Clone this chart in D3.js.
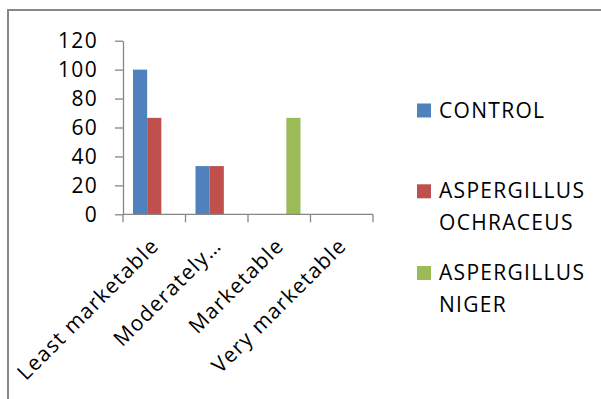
<!DOCTYPE html>
<html>
<head>
<meta charset="utf-8">
<script src="https://cdn.jsdelivr.net/npm/d3@7"></script>
<style>
  html, body { margin: 0; padding: 0; background: #fff; }
  svg { display: block; }
  text { font-family: "Open Sans", sans-serif; fill: #000; }
</style>
</head>
<body>
<svg id="chart" width="601" height="399"></svg>
<script>
// Marketability ratings (%) per treatment
const categories = ["Least marketable", "Moderately…", "Marketable", "Very marketable"];
const seriesNames = ["CONTROL", "ASPERGILLUS OCHRACEUS", "ASPERGILLUS NIGER"];
const control    = [100, 33.33, 0, 0];
const ochraceus  = [66.67, 33.33, 0, 0];
const niger      = [0, 0, 66.67, 0];
const yTicks     = [0, 20, 40, 60, 80, 100, 120];
const colors     = ["#4F81BD", "#C0504D", "#9BBB59"];

const seriesValues = [control, ochraceus, niger];
const legendLines = [["CONTROL"], ["ASPERGILLUS", "OCHRACEUS"], ["ASPERGILLUS", "NIGER"]];

const svg = d3.select("#chart");
const axisColor = "#868686";
const fontSize = "21px";
const spacing = "1.3px";

// Frame: top and left edges only
svg.append("path")
  .attr("d", "M8,399 V10 H601")
  .attr("fill", "none")
  .attr("stroke", "#888")
  .attr("stroke-width", 2);

const plot = { left: 123, right: 373, top: 40.7, bottom: 214.3 };

const x0 = d3.scaleBand().domain(categories).range([plot.left, plot.right]);
// ~10px gap on each side of the 3-bar cluster
const x1 = d3.scaleBand().domain(d3.range(seriesNames.length))
  .range([10, x0.bandwidth() - 10]);

const y = d3.scaleLinear().domain([0, 120]).range([plot.bottom, plot.top]);

// Bars
const groups = svg.append("g").selectAll("g")
  .data(categories)
  .join("g")
  .attr("transform", d => `translate(${x0(d)},0)`);

groups.selectAll("rect")
  .data((c, ci) => seriesValues.map((vals, si) => ({ si, v: vals[ci] })).filter(d => d.v > 0))
  .join("rect")
  .attr("x", d => x1(d.si))
  .attr("width", x1.bandwidth())
  .attr("y", d => y(d.v))
  .attr("height", d => y(0) - y(d.v))
  .attr("fill", d => colors[d.si]);

// Y axis
const yAxis = svg.append("g")
  .attr("transform", `translate(${plot.left},0)`)
  .call(d3.axisLeft(y).tickValues(yTicks).tickSize(8).tickPadding(17).tickSizeOuter(0));
yAxis.select(".domain").attr("stroke", axisColor).attr("stroke-width", 1.3);
yAxis.selectAll(".tick line").attr("stroke", axisColor).attr("stroke-width", 1.3);
yAxis.selectAll(".tick text")
  .style("font-family", "'Open Sans', sans-serif")
  .style("font-size", fontSize)
  .style("letter-spacing", spacing)
  .attr("fill", "#000");

// X axis: category boundary ticks
const xAxisG = svg.append("g");
xAxisG.append("line")
  .attr("x1", plot.left).attr("x2", plot.right)
  .attr("y1", plot.bottom).attr("y2", plot.bottom)
  .attr("stroke", axisColor).attr("stroke-width", 1.3);
const boundaries = categories.map(c => x0(c)).concat([x0(categories[categories.length - 1]) + x0.bandwidth()]);
xAxisG.selectAll("line.tick")
  .data(boundaries)
  .join("line")
  .attr("class", "tick")
  .attr("x1", d => d).attr("x2", d => d)
  .attr("y1", plot.bottom).attr("y2", plot.bottom + 8)
  .attr("stroke", axisColor).attr("stroke-width", 1.3);

// Rotated category labels
xAxisG.selectAll("text.cat")
  .data(categories)
  .join("text")
  .attr("class", "cat")
  .attr("transform", d => `translate(${x0(d) + x0.bandwidth() / 2 + 6},247) rotate(-45)`)
  .attr("text-anchor", "end")
  .style("font-size", fontSize)
  .style("letter-spacing", spacing)
  .text(d => d);

// Legend
const legendBaselines = [117.5, 198.3, 280];
const legend = svg.append("g");
seriesNames.forEach((name, i) => {
  const b = legendBaselines[i];
  legend.append("rect")
    .attr("x", 417).attr("y", b - 14)
    .attr("width", 14).attr("height", 14)
    .attr("fill", colors[i]);
  const t = legend.append("text")
    .attr("x", 439).attr("y", b)
    .style("font-size", fontSize)
    .style("letter-spacing", spacing);
  legendLines[i].forEach((ln, k) => {
    t.append("tspan").attr("x", 439).attr("dy", k === 0 ? 0 : 31.5).text(ln);
  });
});
</script>
</body>
</html>
